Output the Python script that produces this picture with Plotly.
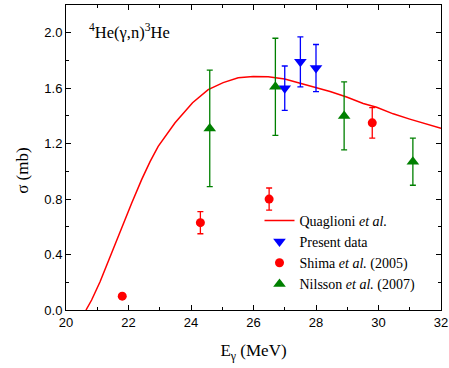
import plotly.graph_objects as go

# Quaglioni et al. theory curve
theory_E = [20.64, 20.82, 21.09, 21.41, 21.78, 22.1, 22.42, 22.69, 22.95, 23.49, 24.05,
            24.55, 25.03, 25.51, 25.99, 26.47, 27.0, 27.49, 28.02, 28.45, 28.98, 29.51,
            29.94, 30.47, 31.0, 31.54, 32.0]
theory_sigma = [0.0, 0.072, 0.204, 0.385, 0.60, 0.77, 0.94, 1.07, 1.18, 1.35, 1.495,
                1.59, 1.64, 1.675, 1.685, 1.682, 1.666, 1.637, 1.605, 1.576, 1.536, 1.49,
                1.463, 1.415, 1.377, 1.34, 1.31]

# Present data
present_E = [27.0, 27.5, 28.0]
present_sigma = [1.60, 1.79, 1.745]
present_err = [0.16, 0.18, 0.17]

# Shima et al. (2005)
shima_E = [21.8, 24.3, 26.5, 29.8]
shima_sigma = [0.10, 0.63, 0.80, 1.35]
shima_err = [0.0, 0.08, 0.08, 0.11]

# Nilsson et al. (2007)
nilsson_E = [24.6, 26.7, 28.9, 31.1]
nilsson_sigma = [1.31, 1.61, 1.40, 1.07]
nilsson_err = [0.42, 0.35, 0.245, 0.17]

x_ticks = [20, 22, 24, 26, 28, 30, 32]
y_ticks = [0.0, 0.4, 0.8, 1.2, 1.6, 2.0]

serif = "Liberation Serif, Times New Roman, serif"
sans = "Liberation Sans, Arial, sans-serif"

fig = go.Figure()
fig.add_trace(go.Scatter(x=theory_E, y=theory_sigma, mode="lines",
                         line=dict(color="#FF0000", width=1.5),
                         name="Quaglioni <i>et al.</i>"))
fig.add_trace(go.Scatter(x=present_E, y=present_sigma, mode="markers",
                         marker=dict(symbol="triangle-down", size=11, color="#0000FF"),
                         error_y=dict(type="data", array=present_err, color="#0000FF",
                                      thickness=1.3, width=3),
                         name="Present data"))
fig.add_trace(go.Scatter(x=shima_E, y=shima_sigma, mode="markers",
                         marker=dict(symbol="circle", size=9, color="#FF0000"),
                         error_y=dict(type="data", array=shima_err, color="#FF0000",
                                      thickness=1.3, width=3),
                         name="Shima <i>et al.</i> (2005)"))
fig.add_trace(go.Scatter(x=nilsson_E, y=nilsson_sigma, mode="markers",
                         marker=dict(symbol="triangle-up", size=11, color="#008000"),
                         error_y=dict(type="data", array=nilsson_err, color="#008000",
                                      thickness=1.3, width=3),
                         name="Nilsson <i>et al.</i> (2007)"))

axis_common = dict(showline=True, linecolor="black", linewidth=1, mirror="allticks",
                   ticks="inside", ticklen=5, tickcolor="black", showgrid=False,
                   zeroline=False, automargin=False,
                   tickfont=dict(family=sans, size=13, color="black"))

fig.update_xaxes(range=[20, 32], tickvals=x_ticks, ticktext=[str(v) for v in x_ticks],
                 minor=dict(ticks="inside", ticklen=3, dtick=1, tickcolor="black"),
                 title=dict(text="E<sub>γ</sub> (MeV)", font=dict(family=serif, size=17, color="black"),
                            standoff=15),
                 **axis_common)
fig.update_yaxes(range=[0, 2.2], tickvals=y_ticks, ticktext=[f"{v:.1f}" for v in y_ticks],
                 minor=dict(ticks="inside", ticklen=3, dtick=0.2, tickcolor="black"),
                 **axis_common)

fig.add_annotation(x=-0.115, y=0.456, xref="paper", yref="paper", xanchor="center", yanchor="middle",
                   text="σ (mb)", textangle=-90, showarrow=False,
                   font=dict(family=serif, size=17, color="black"))

fig.add_annotation(x=0.055, y=0.912, xref="paper", yref="paper", xanchor="left", yanchor="middle",
                   text="<sup>4</sup>He(γ,n)<sup>3</sup>He", showarrow=False,
                   font=dict(family=serif, size=16.5, color="black"))

fig.update_layout(width=449, height=368,
                  margin=dict(l=66, r=8, t=5, b=58),
                  plot_bgcolor="white", paper_bgcolor="white",
                  legend=dict(x=0.516, y=0.345, xanchor="left", yanchor="top",
                              bgcolor="rgba(0,0,0,0)", borderwidth=0,
                              font=dict(family=serif, size=14, color="black"),
                              tracegroupgap=0),
                  showlegend=True)

fig.write_html("out.html", config={"displayModeBar": False},
               post_script="document.body.style.margin='0';")
